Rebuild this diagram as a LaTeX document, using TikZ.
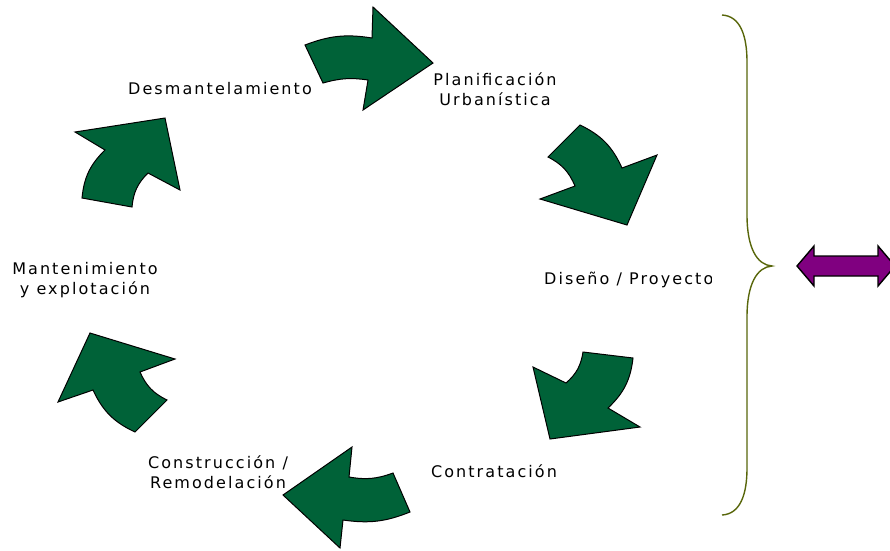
\documentclass[tikz,border=0pt]{standalone}
\usepackage{fontspec}
\setmainfont{DejaVu Sans}[LetterSpace=13]
\usetikzlibrary{positioning}
\definecolor{arrowgreen}{RGB}{0,98,56}
\definecolor{braceolive}{RGB}{88,102,10}
\definecolor{linkpurple}{RGB}{128,0,128}
\tikzset{
	every node/.style={
		align=center,
	},
	phase/.style={inner sep=0pt, font=\fontsize{16}{20}\selectfont},
	turn/.style={fill=arrowgreen, draw=black, line width=1pt, line join=miter},
	brace/.style={draw=braceolive, line width=1.4pt},
	link/.style={fill=linkpurple, draw=black, line width=1.4pt, line join=miter},
}
\begin{document}
\begin{tikzpicture}[x=1pt, y=-1pt]
    \clip (0,0) rectangle (890,550);

    \node[phase] (desmantelamiento) at (220,89) {Desmantelamiento};
    \node[phase] (planificacion) at (495,89) {Planificación\\Urbanística};
    \node[phase] (mantenimiento) at (85,280) {Mantenimiento\\y explotación};
    \node[phase] (construccion) at (218,472) {Construcción /\\Remodelación};
    \node[phase] (contratacion) at (494,471) {Contratación};
    \begin{scope}
        \clip (530,255) rectangle (711,305);
        \node[phase, anchor=west] (diseno) at (544,280) {Diseño / Proyecto};
    \end{scope}

    % arrows of the cycle
    \draw[turn] (305,45) to[bend left=15] (372,38) -- (373,7) -- (433,63) -- (363,110) -- (368,80) to[bend right=12] (323,83) -- cycle;
    \draw[turn] (580,125) to[bend left=20] (622,168) -- (657,155) -- (627,225) -- (540,199) -- (575,186) to[bend right=20] (548,157) -- cycle;
    \draw[turn] (633,358) to[bend left=20] (608,408) -- (640,427) -- (550,439) -- (533,367) -- (566,383) to[bend right=20] (583,352) -- cycle;
    \draw[turn] (410,512) to[bend left=15] (343,520) -- (340,548) -- (283,495) -- (352,447) -- (349,477) to[bend right=15] (393,473) -- cycle;
    \draw[turn] (135,432) to[bend left=20] (93,390) -- (58,402) -- (90,333) -- (175,359) -- (140,372) to[bend right=20] (167,400) -- cycle;
    \draw[turn] (82,198) to[bend left=20] (105,150) -- (75,132) -- (165,118) -- (180,190) -- (148,173) to[bend right=20] (132,207) -- cycle;

    % brace and double arrow
    \draw[brace] (722,15) .. controls (740,16) and (747,35) .. (747,62) -- (747,215) .. controls (747,248) and (757,265) .. (772,266) .. controls (757,267) and (747,284) .. (747,317) -- (747,468) .. controls (747,495) and (740,514) .. (722,515);
    \draw[link] (797,266) -- (814,246) -- (814,256) -- (878,256) -- (878,246) -- (895,266) -- (878,286) -- (878,276) -- (814,276) -- (814,286) -- cycle;
\end{tikzpicture}
\end{document}
